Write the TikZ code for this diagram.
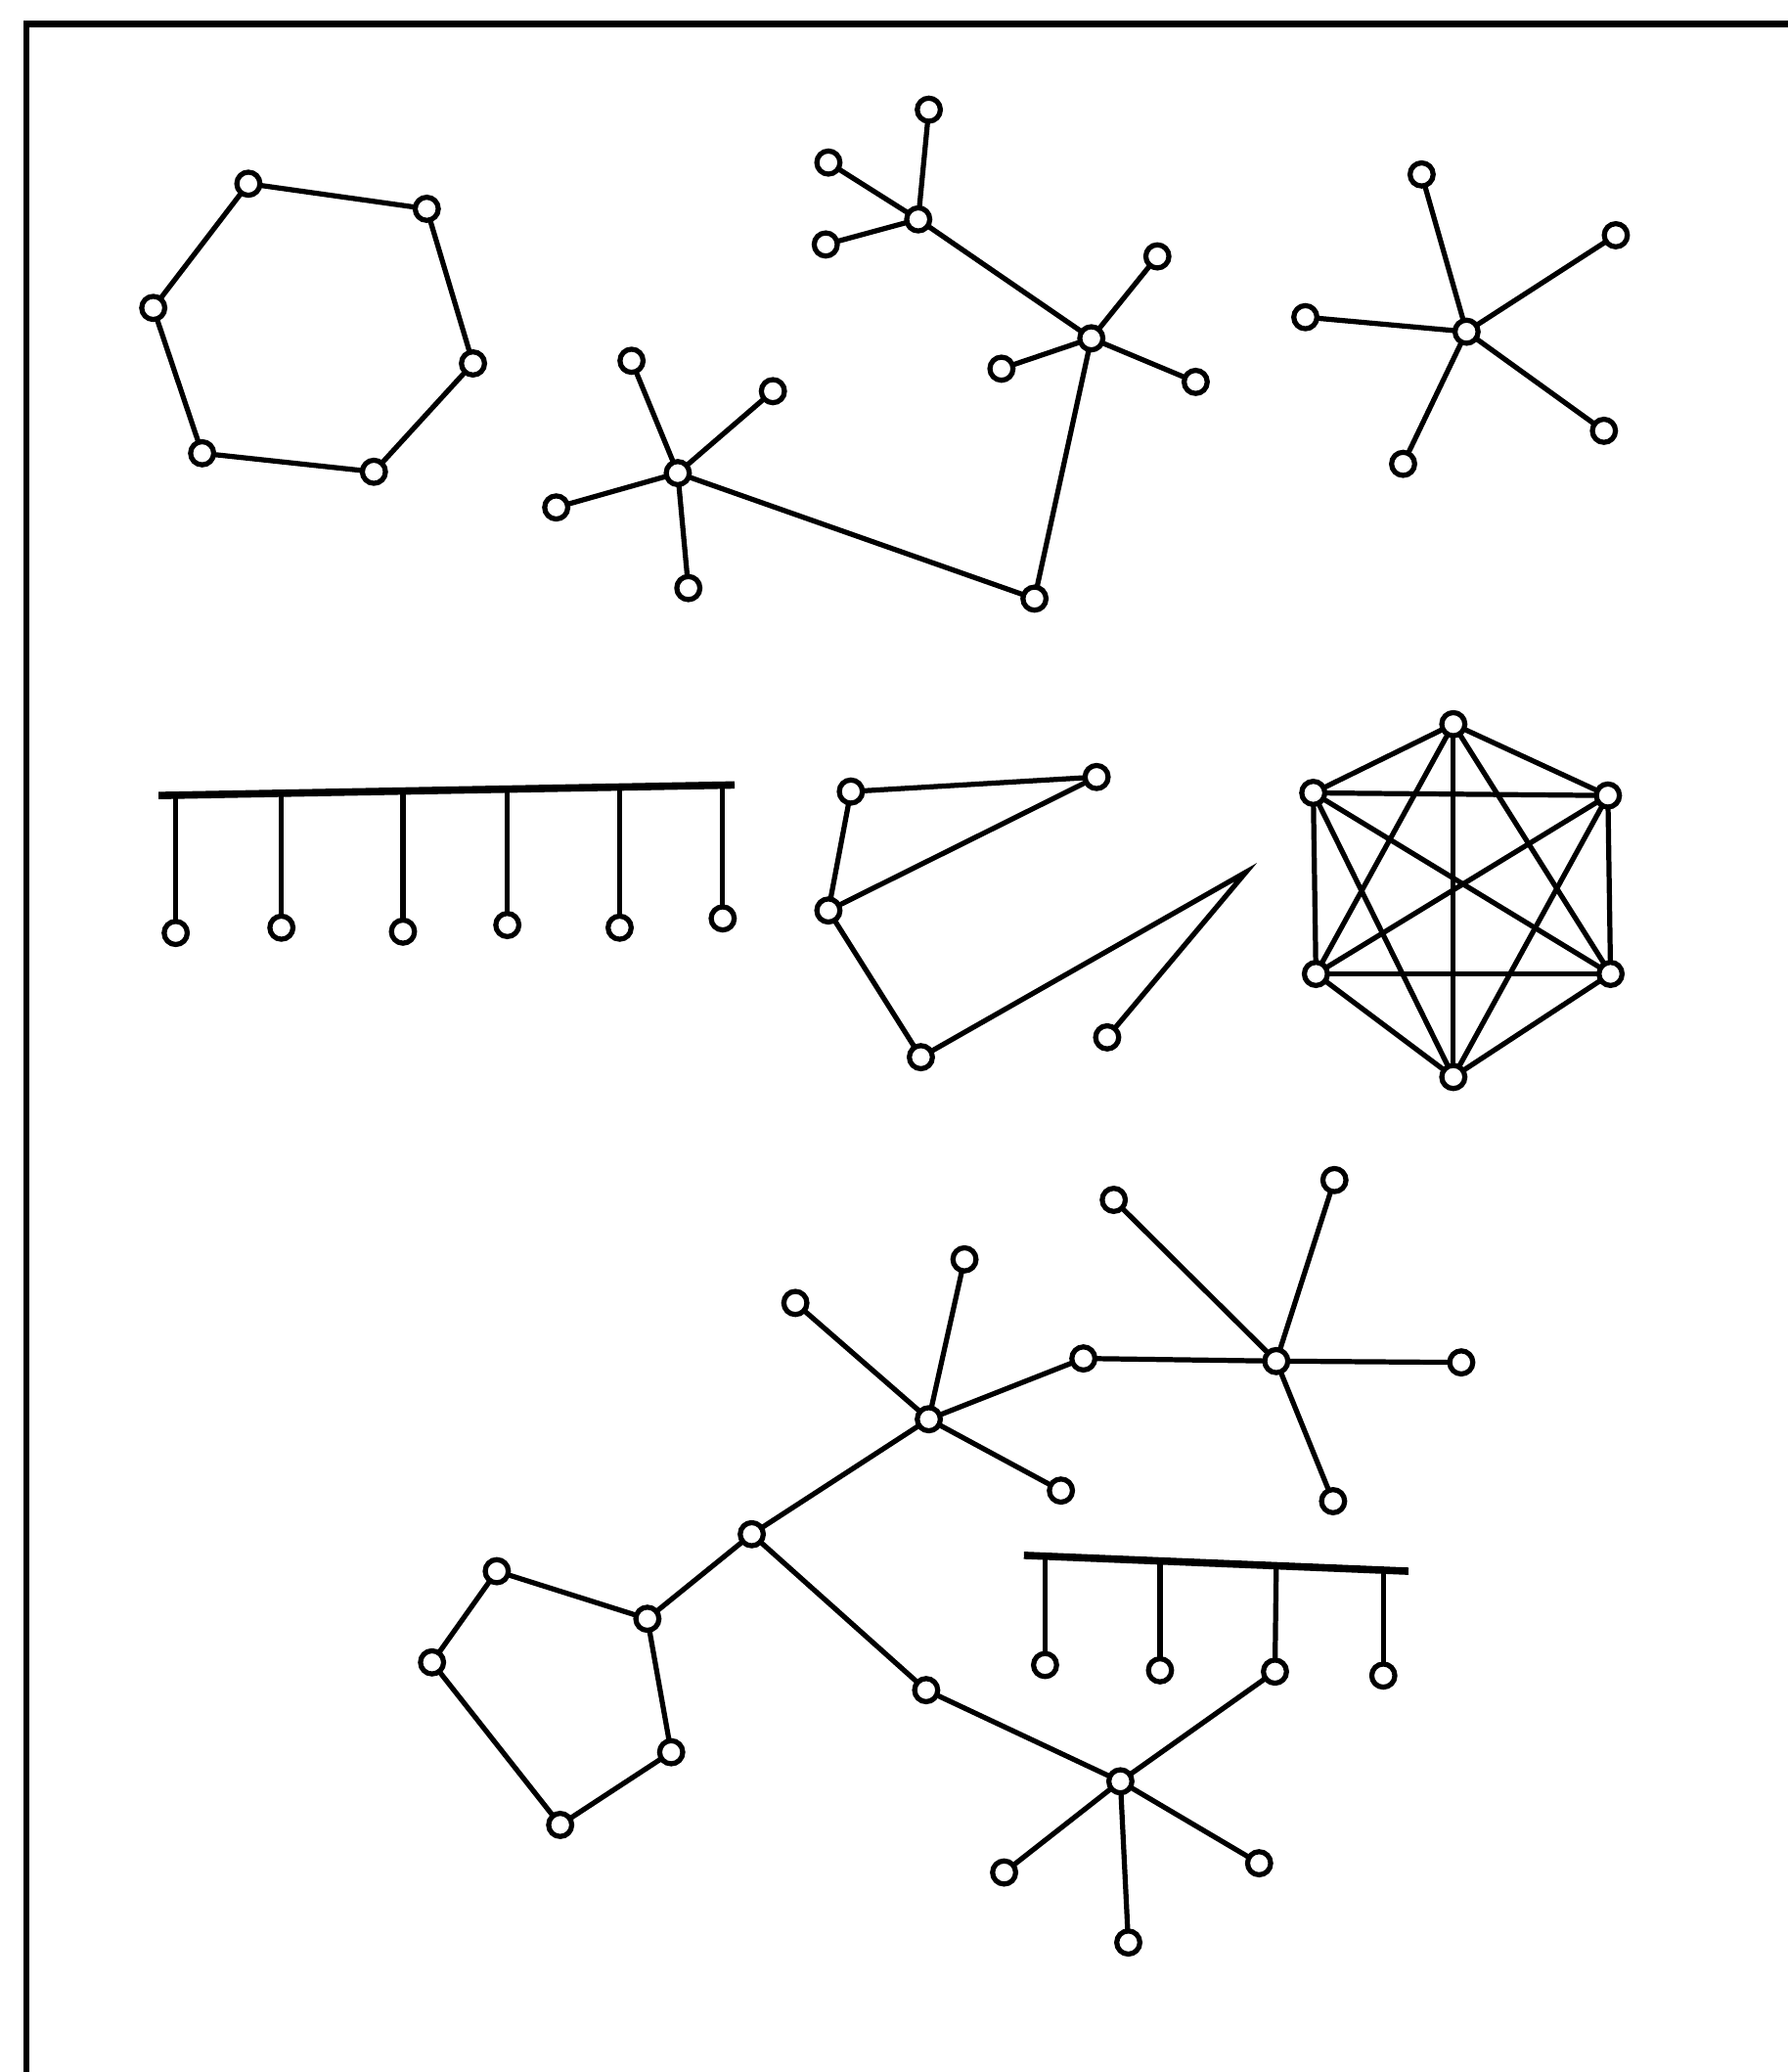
\documentclass[tikz,border=0pt]{standalone}
\usepackage{tikz}
\usetikzlibrary{positioning}

\begin{document}
\begin{tikzpicture}[x=0.01cm, y=-0.01cm, line width=1.1pt]

		\tikzset{
			vert/.style={
					circle, draw=black, fill=white, line width=1.1pt, inner sep=0pt, outer sep=0pt, minimum size=0.175cm
				},
			edge/.style={
					line width=1.1pt
				},
			bar/.style={
					line width=1.6pt
				},
		}
		\useasboundingbox (0,0) rectangle (1353,1568);
		\draw[line width=1.4pt] (1353,18) -- (20,18) -- (20,1568);

		% hexagon
		\node[vert] at (188,139)(h1){};
		\node[vert] at (323,158)(h2){};
		\node[vert] at (358,275)(h3){};
		\node[vert] at (283,357)(h4){};
		\node[vert] at (153,343)(h5){};
		\node[vert] at (116,233)(h6){};

		\draw[edge] (h1)--(h2);
		\draw[edge] (h2)--(h3);
		\draw[edge] (h3)--(h4);
		\draw[edge] (h4)--(h5);
		\draw[edge] (h5)--(h6);
		\draw[edge] (h6)--(h1);

		% tree with three hubs
		\node[vert] at (695,166)(a0){};
		\node[vert] at (703,83)(a1){};
		\node[vert] at (627,123)(a2){};
		\node[vert] at (625,185)(a3){};
		\node[vert] at (826,256)(b0){};
		\node[vert] at (876,194)(b1){};
		\node[vert] at (758,279)(b2){};
		\node[vert] at (905,289)(b3){};
		\node[vert] at (783,453)(c0){};
		\node[vert] at (513,358)(d0){};
		\node[vert] at (478,273)(d1){};
		\node[vert] at (585,296)(d2){};
		\node[vert] at (421,384)(d3){};
		\node[vert] at (521,445)(d4){};

		\draw[edge] (a0)--(a1);
		\draw[edge] (a0)--(a2);
		\draw[edge] (a0)--(a3);
		\draw[edge] (a0)--(b0);
		\draw[edge] (b0)--(b1);
		\draw[edge] (b0)--(b2);
		\draw[edge] (b0)--(b3);
		\draw[edge] (b0)--(c0);
		\draw[edge] (c0)--(d0);
		\draw[edge] (d0)--(d1);
		\draw[edge] (d0)--(d2);
		\draw[edge] (d0)--(d3);
		\draw[edge] (d0)--(d4);

		% star
		\node[vert] at (1110,251)(e0){};
		\node[vert] at (1076,132)(e1){};
		\node[vert] at (1223,178)(e2){};
		\node[vert] at (988,240)(e3){};
		\node[vert] at (1214,326)(e4){};
		\node[vert] at (1062,351)(e5){};

		\draw[edge] (e0)--(e1);
		\draw[edge] (e0)--(e2);
		\draw[edge] (e0)--(e3);
		\draw[edge] (e0)--(e4);
		\draw[edge] (e0)--(e5);

		% comb with six teeth
		\coordinate (f0) at (120,602);
		\coordinate (f7) at (556,594);
		\coordinate (g1) at (133,601.8);
		\coordinate (g2) at (213,600.3);
		\coordinate (g3) at (305,598.6);
		\coordinate (g4) at (384,597.2);
		\coordinate (g5) at (469,595.6);
		\coordinate (g6) at (547,594.2);
		\node[vert] at (133,706)(f1){};
		\node[vert] at (213,702)(f2){};
		\node[vert] at (305,705)(f3){};
		\node[vert] at (384,700)(f4){};
		\node[vert] at (469,702)(f5){};
		\node[vert] at (547,695)(f6){};

		\draw[bar] (f0)--(f7);
		\draw[edge] (g1)--(f1);
		\draw[edge] (g2)--(f2);
		\draw[edge] (g3)--(f3);
		\draw[edge] (g4)--(f4);
		\draw[edge] (g5)--(f5);
		\draw[edge] (g6)--(f6);

		% zigzag
		\node[vert] at (644,599)(p1){};
		\node[vert] at (830,588)(p2){};
		\node[vert] at (627,689)(p3){};
		\node[vert] at (697,800)(p4){};
		\node[vert] at (838,785)(p5){};
		\coordinate (pt) at (943,660);

		\draw[edge] (p1)--(p2);
		\draw[edge] (p2)--(p3);
		\draw[edge] (p1)--(p3);
		\draw[edge] (p3)--(p4);
		\draw[edge, line join=miter] (p4)--(pt)--(p5);

		% complete graph on six vertices
		\node[vert] at (1100,548)(k1){};
		\node[vert] at (1217,602)(k2){};
		\node[vert] at (1219,737)(k3){};
		\node[vert] at (1100,815)(k4){};
		\node[vert] at (996,737)(k5){};
		\node[vert] at (994,600)(k6){};

		\foreach \i in {1,...,5}{
			\pgfmathtruncatemacro{\lo}{\i+1}
			\foreach \j in {\lo,...,6}{
				\draw[edge] (k\i)--(k\j);
			}
		}

		% big tree
		\node[vert] at (703,1074)(s1){};
		\node[vert] at (602,986)(s2){};
		\node[vert] at (730,953)(s3){};
		\node[vert] at (803,1128)(s4){};
		\node[vert] at (820,1028)(m1){};
		\node[vert] at (966,1030)(t0){};
		\node[vert] at (843,908)(t1){};
		\node[vert] at (1010,893)(t2){};
		\node[vert] at (1106,1031)(t3){};
		\node[vert] at (1009,1136)(t4){};
		\node[vert] at (569,1161)(j1){};
		\node[vert] at (490,1225)(q1){};
		\node[vert] at (376,1189)(q2){};
		\node[vert] at (327,1258)(q3){};
		\node[vert] at (424,1381)(q4){};
		\node[vert] at (508,1326)(q5){};
		\node[vert] at (701,1279)(r1){};
		\node[vert] at (848,1348)(u0){};
		\node[vert] at (760,1417)(u1){};
		\node[vert] at (953,1410)(u2){};
		\node[vert] at (854,1470)(u3){};

		\draw[edge] (s1)--(s2);
		\draw[edge] (s1)--(s3);
		\draw[edge] (s1)--(s4);
		\draw[edge] (s1)--(m1);
		\draw[edge] (m1)--(t0);
		\draw[edge] (t0)--(t1);
		\draw[edge] (t0)--(t2);
		\draw[edge] (t0)--(t3);
		\draw[edge] (t0)--(t4);
		\draw[edge] (s1)--(j1);
		\draw[edge] (j1)--(q1);
		\draw[edge] (q1)--(q2);
		\draw[edge] (q2)--(q3);
		\draw[edge] (q3)--(q4);
		\draw[edge] (q4)--(q5);
		\draw[edge] (q5)--(q1);
		\draw[edge] (j1)--(r1);
		\draw[edge] (r1)--(u0);
		\draw[edge] (u0)--(u1);
		\draw[edge] (u0)--(u2);
		\draw[edge] (u0)--(u3);

		% comb with four teeth
		\coordinate (v0) at (775,1177);
		\coordinate (v5) at (1066,1189);
		\coordinate (w1) at (791,1177.7);
		\coordinate (w2) at (878,1181.2);
		\coordinate (w3) at (966,1184.9);
		\coordinate (w4) at (1047,1188.2);
		\node[vert] at (791,1260)(v1){};
		\node[vert] at (878,1264)(v2){};
		\node[vert] at (965,1265)(v3){};
		\node[vert] at (1047,1268)(v4){};

		\draw[bar] (v0)--(v5);
		\draw[edge] (w1)--(v1);
		\draw[edge] (w2)--(v2);
		\draw[edge] (w3)--(v3);
		\draw[edge] (w4)--(v4);
		\draw[edge] (u0)--(v3);

	\end{tikzpicture}
\end{document}
